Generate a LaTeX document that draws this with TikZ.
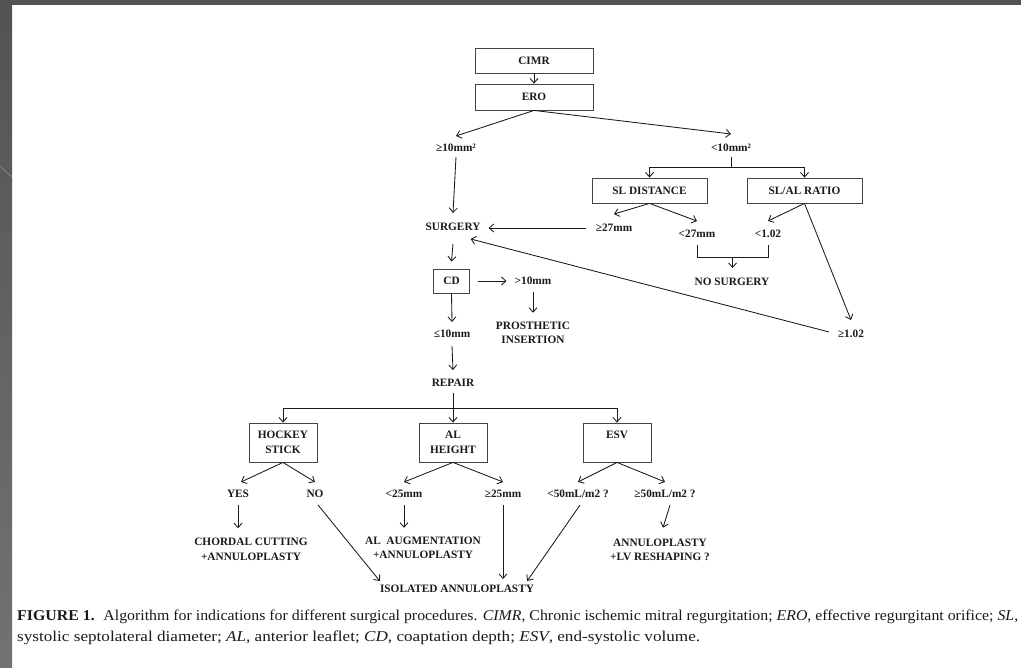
\documentclass[tikz,border=0pt]{standalone}
\usepackage{fontspec}
\setmainfont{Liberation Serif}
\usetikzlibrary{arrows.meta,calc}
\definecolor{frametop}{HTML}{535353}
\definecolor{framebot}{HTML}{727272}
\definecolor{ink}{HTML}{1A1A1A}
\definecolor{boxline}{HTML}{444444}
\newcommand\diafont{\fontsize{11.3}{14.5}\selectfont\bfseries}
\newcommand\capfont{\fontsize{15}{17}\selectfont}
\begin{document}
\begin{tikzpicture}[x=1pt,y=-1pt,
  ln/.style={draw=ink, line width=0.85pt},
  arr/.style={draw=ink, line width=0.85pt, -{Straight Barb[length=4.5pt,width=8pt]}},
  boxn/.style={draw=boxline, line width=0.85pt, fill=white, font=\diafont, text=ink, align=center, inner sep=0pt},
  lbl/.style={font=\diafont, text=ink, align=center, inner sep=1pt}]
% background and slide frame
\useasboundingbox (0,0) rectangle (1021,668);
\fill[white] (0,0) rectangle (1021,668);
\fill[frametop] (0,0) rectangle (1021,5);
\shade[top color=frametop, bottom color=framebot] (0,0) rectangle (12,668);
\draw[white!45!frametop, line width=0.4pt] (0,166) -- (12,177);

% boxes
\node[boxn, minimum width=118, minimum height=25] (cimr) at (534,60.5) {CIMR};
\node[boxn, minimum width=118, minimum height=26] (ero) at (534,97) {ERO};
\node[boxn, minimum width=115, minimum height=25] (sld) at (649.5,190.5) {SL DISTANCE};
\node[boxn, minimum width=115, minimum height=25] (slr) at (804.5,190.5) {SL/AL RATIO};
\node[boxn, minimum width=36, minimum height=24] (cd) at (451.5,281) {CD};
\node[boxn, minimum width=68, minimum height=39] (hs) at (283,442.5) {HOCKEY\\STICK};
\node[boxn, minimum width=68, minimum height=39] (alh) at (453,442.5) {AL\\HEIGHT};
\node[boxn, minimum width=68, minimum height=39] (esv) at (617,442.5) {ESV\\\phantom{S}};

% labels
\node[lbl] (ge10) at (456,148) {≥10mm²};
\node[lbl] (lt10) at (731,148) {<10mm²};
\node[lbl] (surgery) at (453,227) {SURGERY};
\node[lbl] (ge27) at (614,228) {≥27mm};
\node[lbl] (lt27) at (697,234) {<27mm};
\node[lbl] (lt102) at (768,234) {<1.02};
\node[lbl] (nosurg) at (732,282) {NO SURGERY};
\node[lbl] (ge102) at (851,334) {≥1.02};
\node[lbl] (gt10) at (533,281) {>10mm};
\node[lbl] (prost) at (533,333) {PROSTHETIC\\INSERTION};
\node[lbl] (le10) at (452,334) {≤10mm};
\node[lbl] (repair) at (453,383) {REPAIR};
\node[lbl] (yes) at (238,494) {YES};
\node[lbl] (no) at (315,494) {NO};
\node[lbl] (lt25) at (404,494) {<25mm};
\node[lbl] (ge25) at (503,494) {≥25mm};
\node[lbl] (lt50) at (578,494) {<50mL/m2 ?};
\node[lbl] (ge50) at (665,494) {≥50mL/m2 ?};
\node[lbl] (chord) at (251,549.5) {CHORDAL CUTTING\\+ANNULOPLASTY};
\node[lbl] (alaug) at (423,548) {AL\ \ AUGMENTATION\\+ANNULOPLASTY};
\node[lbl] (annlv) at (660,550) {ANNULOPLASTY\\+LV RESHAPING ?};
\node[lbl] (iso) at (457,589) {ISOLATED ANNULOPLASTY};

% connectors
\draw[arr] (cimr) -- (ero);
\draw[arr] (ero.south) -- ([yshift=7pt]ge10.north);
\draw[arr] (ero.south) -- ([yshift=9pt]lt10.north);
\draw[arr] ([yshift=-4pt]ge10.south) -- ([yshift=9pt]surgery.north);
\draw[arr, shorten <=9pt, shorten >=7pt] (ge27.west) -- (ge27.west -| surgery.east);
\draw[ln] ([yshift=-4pt]lt10.south) -- ++(0,10) coordinate (j1);
\draw[ln] (j1 -| sld.north) -- (j1 -| slr.north);
\draw[arr] (j1 -| sld.north) -- (sld.north);
\draw[arr] (j1 -| slr.north) -- (slr.north);
\draw[arr] (sld.south) -- ([yshift=9pt]ge27.north);
\draw[arr] (sld.south) -- ([yshift=8pt]lt27.north);
\draw[arr] (slr.south) -- ([yshift=8pt]lt102.north);
\draw[arr] (slr.south) -- ([yshift=9pt]ge102.north);
\draw[arr, shorten <=8pt] (ge102.west) -- ([shift={(-11,7)}]surgery.south east);
\draw[ln] ($(lt27.south)+(0,6)$) |- coordinate[pos=0.75] (bm) ($(lt102.south)+(0,18)$) -- ($(lt102.south)+(0,6)$);
\draw[arr] (bm) -- ([yshift=9pt]bm |- nosurg.north);
\draw[arr] ([yshift=-12pt]surgery.south) -- ([yshift=7pt]cd.north);
\draw[arr, shorten <=8pt, shorten >=7pt] (cd.east) -- (cd.east -| gt10.west);
\draw[arr] ([yshift=-6pt]gt10.south) -- ([yshift=8pt]prost.north);
\draw[arr] (cd.south) -- ([yshift=7pt]le10.north);
\draw[arr] ([yshift=-7pt]le10.south) -- ([yshift=8pt]repair.north);
\coordinate (split) at (453,408);
\draw[ln] ([yshift=-5pt]repair.south) -- (split);
\draw[ln] (split -| hs.north) -- (split -| esv.north);
\draw[arr] (split -| hs.north) -- (hs.north);
\draw[arr] (split) -- (alh.north);
\draw[arr] (split -| esv.north) -- (esv.north);
\draw[arr] (hs.south) -- ([shift={(3,-7)}]yes.north);
\draw[arr] (hs.south) -- ([yshift=7pt]no.north);
\draw[arr] (alh.south) -- ([yshift=7pt]lt25.north);
\draw[arr] (alh.south) -- ([yshift=7pt]ge25.north);
\draw[arr] (esv.south) -- ([yshift=7pt]lt50.north);
\draw[arr] (esv.south) -- ([yshift=7pt]ge50.north);
\draw[arr] ([yshift=-6pt]yes.south) -- ([yshift=9pt]yes.south |- chord.north);
\draw[arr] ([yshift=-6pt]lt25.south) -- ([yshift=8pt]lt25.south |- alaug.north);
\draw[arr] ([shift={(5,6)}]ge50.south) -- ([shift={(3,-10)}]annlv.north);
\draw[arr] ([shift={(3,6)}]no.south) -- ([shift={(1,-3)}]iso.north west);
\draw[arr] ([yshift=-6pt]ge25.south) -- ([yshift=5pt]ge25.south |- iso.north);
\draw[arr] ([shift={(2,6)}]lt50.south) -- ([shift={(-8,-3)}]iso.north east);

% caption
\node[anchor=base west, inner sep=0pt, text=ink] (cap1) at (17,620.5) {\resizebox{1001pt}{\height}{\capfont\textbf{FIGURE 1.}\hspace{0.55em}Algorithm for indications for different surgical procedures. \textit{CIMR}, Chronic ischemic mitral regurgitation; \textit{ERO}, effective regurgitant orifice; \textit{SL},}};
\node[anchor=base west, inner sep=0pt, text=ink] (cap2) at (17,641) {\resizebox{683pt}{\height}{\capfont systolic septolateral diameter; \textit{AL}, anterior leaflet; \textit{CD}, coaptation depth; \textit{ESV}, end-systolic volume.}};
\end{tikzpicture}
\end{document}
